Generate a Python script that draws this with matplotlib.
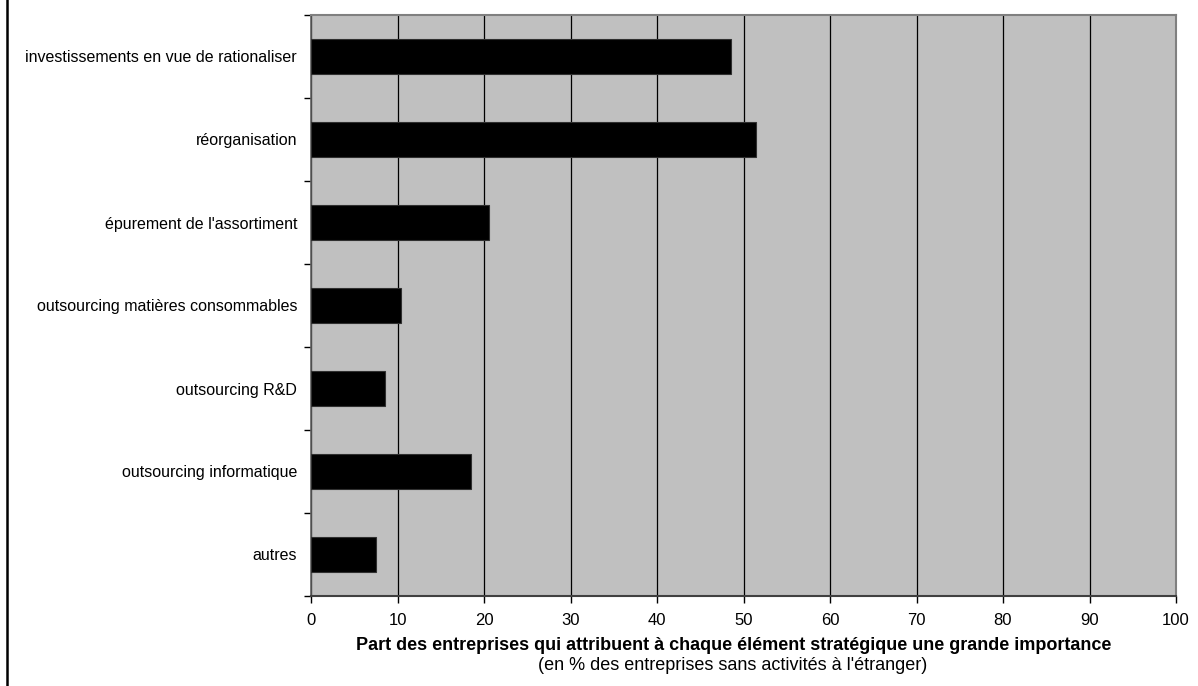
import matplotlib
matplotlib.use("Agg")
import matplotlib.pyplot as plt
from matplotlib.lines import Line2D
from matplotlib.ticker import FixedLocator, NullFormatter

plt.rcParams['font.family'] = ['Liberation Sans', 'DejaVu Sans']

categories = [
    "investissements en vue de rationaliser",
    "réorganisation",
    "épurement de l'assortiment",
    "outsourcing matières consommables",
    "outsourcing R&D",
    "outsourcing informatique",
    "autres",
]
shares = [48.5, 51.5, 20.6, 10.4, 8.5, 18.5, 7.5]
x_ticks = [0, 10, 20, 30, 40, 50, 60, 70, 80, 90, 100]

fig = plt.figure(figsize=(11.98, 6.86), dpi=100)
ax = fig.add_axes([311 / 1198, 1 - 596 / 686, 865 / 1198, 581 / 686])
ax.set_facecolor('#c0c0c0')

pos = list(range(len(categories)))
ax.barh(pos, shares, height=0.41, color='black', edgecolor='#303030', linewidth=0.8, zorder=3)

ax.set_xlim(0, 100)
ax.set_ylim(len(categories) - 0.5, -0.5)

ax.set_xticks(x_ticks)
ax.set_xticklabels([str(v) for v in x_ticks], fontsize=12)
ax.grid(axis='x', color='black', linewidth=0.9, zorder=1)
ax.tick_params(axis='x', direction='out', length=5, width=1, pad=7, color='black')

ax.set_yticks(pos)
ax.set_yticklabels(categories, fontsize=11.5)
ax.tick_params(axis='y', which='major', length=0, pad=10)
ax.yaxis.set_minor_locator(FixedLocator([p - 0.5 for p in pos] + [len(pos) - 0.5]))
ax.yaxis.set_minor_formatter(NullFormatter())
ax.tick_params(axis='y', which='minor', direction='out', length=5, width=1, color='black')

for side in ('top', 'right'):
    ax.spines[side].set_color('#808080')
    ax.spines[side].set_linewidth(1.5)
ax.spines['left'].set_color('#606060')
ax.spines['bottom'].set_color('#404040')
ax.spines['left'].set_linewidth(1.2)
ax.spines['bottom'].set_linewidth(1.5)

fig.text(734 / 1198, 1 - 645 / 686, "Part des entreprises qui attribuent à chaque élément stratégique une grande importance",
         ha='center', va='center', fontsize=13, fontweight='bold')
fig.text(733 / 1198, 1 - 665 / 686, "(en % des entreprises sans activités à l'étranger)",
         ha='center', va='center', fontsize=13)

fig.add_artist(Line2D([6.5 / 1198, 6.5 / 1198], [0, 1], transform=fig.transFigure,
                      color='black', linewidth=1.8))

fig.savefig("out.png", dpi=100)
